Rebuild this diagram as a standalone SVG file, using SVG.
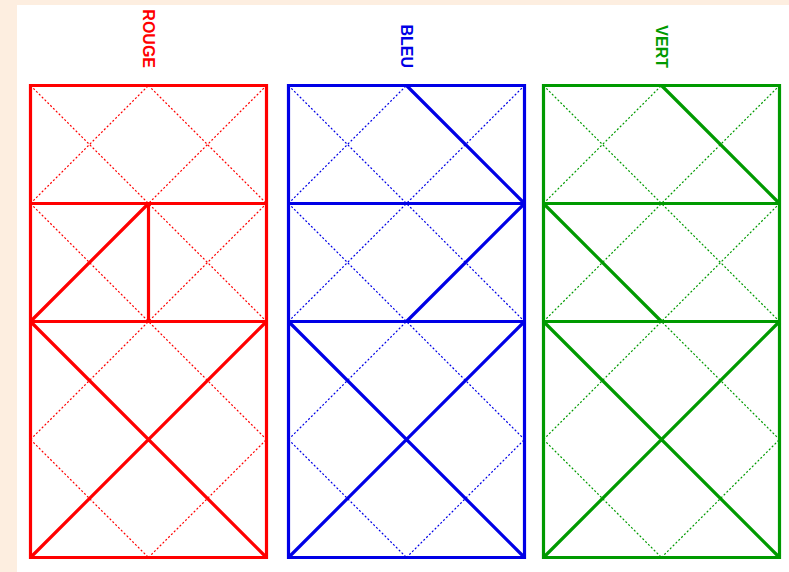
<svg xmlns="http://www.w3.org/2000/svg" width="789" height="572" viewBox="0 0 789 572">
<style>
.lat{fill:none;stroke-width:1.2;stroke-dasharray:2 2}
.solid{fill:none;stroke-width:3.2}
.lbl{font-family:"Liberation Sans",Arial,sans-serif;font-weight:bold;font-size:16px;text-anchor:end}
</style>
<rect x="0" y="0" width="789" height="572" fill="#fdeee0"/>
<rect x="17" y="5" width="772" height="567" fill="#ffffff"/>
<g id="rouge" transform="translate(30.5,85.5)">
<path class="lat" stroke="#ff0000" d="M0,0L236,236M0,118L236,354M0,236L236,472M0,354L118,472M118,0L236,118M0,118L118,0M0,236L236,0M0,354L236,118M0,472L236,236M118,472L236,354"/>
<path class="solid" stroke="#ff0000" d="M0,0H236V472H0Z M0,118H236 M0,236H236 M0,236L236,472 M236,236L0,472"/>
<path class="solid" stroke="#ff0000" d="M118,118V236M0,236L118,118"/>
<text class="lbl" fill="#ff0000" transform="translate(112.3,-17.5) rotate(90)">ROUGE</text>
</g>
<g id="bleu" transform="translate(288.5,85.5)">
<path class="lat" stroke="#0000e6" d="M0,0L236,236M0,118L236,354M0,236L236,472M0,354L118,472M118,0L236,118M0,118L118,0M0,236L236,0M0,354L236,118M0,472L236,236M118,472L236,354"/>
<path class="solid" stroke="#0000e6" d="M0,0H236V472H0Z M0,118H236 M0,236H236 M0,236L236,472 M236,236L0,472"/>
<path class="solid" stroke="#0000e6" d="M118,0L236,118M236,118L118,236"/>
<text class="lbl" fill="#0000e6" transform="translate(112.3,-17.5) rotate(90)">BLEU</text>
</g>
<g id="vert" transform="translate(543.5,85.5)">
<path class="lat" stroke="#009a00" d="M0,0L236,236M0,118L236,354M0,236L236,472M0,354L118,472M118,0L236,118M0,118L118,0M0,236L236,0M0,354L236,118M0,472L236,236M118,472L236,354"/>
<path class="solid" stroke="#009a00" d="M0,0H236V472H0Z M0,118H236 M0,236H236 M0,236L236,472 M236,236L0,472"/>
<path class="solid" stroke="#009a00" d="M118,0L236,118M0,118L118,236"/>
<text class="lbl" fill="#009a00" transform="translate(112.3,-17.5) rotate(90)">VERT</text>
</g>
</svg>
